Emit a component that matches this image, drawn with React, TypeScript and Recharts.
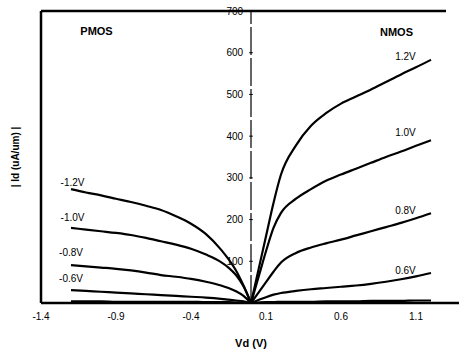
import React from "react";
import {
  LineChart,
  Line,
  XAxis,
  YAxis,
  ReferenceLine,
  ReferenceDot
} from "recharts";

// drain voltage points (V)
const nmosX = [0, 0.05, 0.1, 0.15, 0.2, 0.3, 0.4, 0.5, 0.6, 0.7, 0.8, 0.9, 1.0, 1.1, 1.2];
const pmosX = [-1.2, -1.1, -1.0, -0.9, -0.8, -0.7, -0.6, -0.5, -0.4, -0.3, -0.2, -0.15, -0.1, -0.05, 0];

// |Id| in uA/um, NMOS by gate voltage
const n12 = [0, 80, 160, 240, 308, 378, 425, 455, 478, 495, 512, 530, 548, 565, 583];
const n10 = [0, 62, 124, 180, 216, 250, 273, 293, 308, 322, 336, 350, 363, 377, 390];
const n08 = [0, 25, 50, 75, 97, 120, 133, 143, 152, 162, 172, 182, 192, 203, 215];
const n06 = [0, 7, 14, 20, 24, 29, 33, 36, 39, 42, 46, 51, 57, 64, 72];
const n04 = [0, 1, 2, 2, 3, 3, 3, 4, 4, 4, 5, 5, 5, 6, 6];

// PMOS by gate voltage
const p12 = [273, 265, 258, 250, 242, 233, 223, 208, 190, 165, 128, 105, 78, 42, 0];
const p10 = [180, 176, 172, 168, 163, 156, 148, 140, 130, 116, 98, 85, 67, 40, 0];
const p08 = [91, 88, 85, 82, 78, 73, 67, 63, 58, 51, 42, 36, 28, 17, 0];
const p06 = [31, 29, 27, 25, 23, 21, 19, 17, 15, 13, 10, 8, 6, 4, 0];
const p04 = [4, 4, 4, 3, 3, 3, 3, 3, 3, 2, 2, 2, 1, 1, 0];

const xTicks = [-1.4, -0.9, -0.4, 0.1, 0.6, 1.1];
const yTicks = [100, 200, 300, 400, 500, 600, 700];

// curve labels: [text, x, y]
const curveLabels: [string, number, number][] = [
  ["1.2V", 1.03, 590],
  ["1.0V", 1.03, 408],
  ["0.8V", 1.03, 223],
  ["0.6V", 1.03, 79],
  ["-1.2V", -1.19, 288],
  ["-1.0V", -1.19, 204],
  ["-0.8V", -1.2, 120],
  ["-0.6V", -1.2, 60]
];

const toPoints = (xs: number[], ys: number[]) =>
  xs.map((x, i) => ({ x, y: ys[i] }));

const series = [
  toPoints(nmosX, n12),
  toPoints(nmosX, n10),
  toPoints(nmosX, n08),
  toPoints(nmosX, n06),
  toPoints(nmosX, n04),
  toPoints(pmosX, p12),
  toPoints(pmosX, p10),
  toPoints(pmosX, p08),
  toPoints(pmosX, p06),
  toPoints(pmosX, p04)
];

const App = () => {
  return (
    <div style={{ position: "absolute", left: 0, top: 0, background: "#fff" }}>
      <LineChart
        width={459}
        height={352}
        margin={{ top: 11, right: -2, bottom: 0, left: 0 }}
        style={{ fontFamily: "'Liberation Sans', Arial, sans-serif" }}
      >
        <XAxis
          dataKey="x"
          type="number"
          domain={[-1.4, 1.4]}
          ticks={xTicks}
          allowDataOverflow
          tickLine={false}
          tickSize={0}
          tickMargin={10}
          height={49}
          axisLine={{ stroke: "#000", strokeWidth: 2.5 }}
          tick={{ fill: "#000", fontSize: 10 }}
          label={{
            value: "Vd (V)",
            position: "insideBottom",
            offset: 5,
            fill: "#000",
            fontSize: 11,
            fontWeight: "bold"
          }}
        />
        <YAxis
          type="number"
          domain={[0, 700]}
          width={41}
          tick={false}
          tickLine={false}
          axisLine={false}
          label={{
            value: "| Id (uA/um) |",
            angle: -90,
            position: "center",
            dx: -5,
            fill: "#000",
            fontSize: 10,
            fontWeight: "bold"
          }}
        />

        {/* left and top frame */}
        <ReferenceLine
          segment={[{ x: -1.4, y: 0 }, { x: -1.4, y: 700 }]}
          stroke="#000"
          strokeWidth={2.5}
          ifOverflow="visible"
        />
        <ReferenceLine
          segment={[{ x: -1.4, y: 700 }, { x: 1.3, y: 700 }]}
          stroke="#000"
          strokeWidth={2.5}
          ifOverflow="visible"
        />
        {/* y axis through zero */}
        <ReferenceLine x={0} stroke="#000" strokeWidth={1.2} strokeDasharray="28 3" />
        {yTicks.map((v) => (
          <ReferenceLine
            key={v}
            segment={[{ x: -0.012, y: v }, { x: 0.012, y: v }]}
            stroke="#000"
            strokeWidth={1}
            ifOverflow="visible"
            label={{ value: String(v), position: "left", offset: 6, fill: "#000", fontSize: 10 }}
          />
        ))}

        {series.map((d, i) => (
          <Line
            key={i}
            data={d}
            dataKey="y"
            type="monotone"
            stroke="#000"
            strokeWidth={2.2}
            dot={false}
            isAnimationActive={false}
          />
        ))}

        {curveLabels.map(([t, x, y]) => (
          <ReferenceDot
            key={t}
            x={x}
            y={y}
            r={0}
            stroke="none"
            label={{ value: t, position: "center", fill: "#000", fontSize: 10 }}
          />
        ))}
        <ReferenceDot
          x={-1.03}
          y={652}
          r={0}
          stroke="none"
          label={{ value: "PMOS", position: "center", fill: "#000", fontSize: 11, fontWeight: "bold" }}
        />
        <ReferenceDot
          x={0.97}
          y={650}
          r={0}
          stroke="none"
          label={{ value: "NMOS", position: "center", fill: "#000", fontSize: 11, fontWeight: "bold" }}
        />
      </LineChart>
    </div>
  );
};

export default App;
